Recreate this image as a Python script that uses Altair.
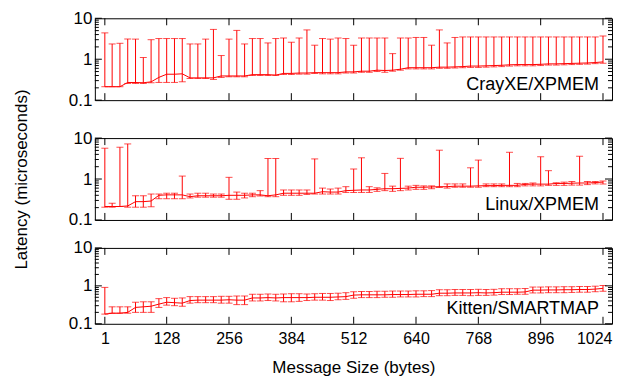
import altair as alt
import pandas as pd

# ---------------- data ----------------
sizes = [1] + [16 * k for k in range(1, 65)]

cray_mean = [0.213, 0.213, 0.213, 0.27, 0.27, 0.266, 0.28, 0.36, 0.43, 0.43,
             0.44, 0.35, 0.35, 0.35, 0.35, 0.39, 0.39, 0.39, 0.39, 0.42,
             0.42, 0.42, 0.41, 0.45, 0.45, 0.46, 0.46, 0.47, 0.47, 0.47,
             0.47, 0.49, 0.49, 0.51, 0.51, 0.54, 0.53, 0.54, 0.57, 0.62,
             0.62, 0.62, 0.62, 0.64, 0.64, 0.65, 0.66, 0.68, 0.68, 0.69,
             0.70, 0.71, 0.73, 0.74, 0.74, 0.74, 0.75, 0.77, 0.77, 0.78,
             0.79, 0.80, 0.81, 0.83, 0.86]
cray_lo = [0.213, 0.213, 0.213, 0.256, 0.256, 0.256, 0.266, 0.271, 0.271, 0.271,
           0.281, 0.339, 0.339, 0.339, 0.321, 0.359, 0.372, 0.372, 0.372, 0.401,
           0.401, 0.401, 0.401, 0.424, 0.424, 0.432, 0.432, 0.449, 0.44, 0.44,
           0.44, 0.46, 0.46, 0.48, 0.48, 0.50, 0.48, 0.51, 0.54, 0.58,
           0.58, 0.58, 0.58, 0.60, 0.60, 0.61, 0.62, 0.63, 0.63, 0.64,
           0.65, 0.66, 0.68, 0.69, 0.69, 0.69, 0.70, 0.72, 0.72, 0.73,
           0.74, 0.75, 0.76, 0.78, 0.80]
cray_hi = [4.4, 2.36, 2.45, 3.12, 3.1, 1.1, 3.0, 3.2, 3.2, 3.2,
           3.2, 2.36, 2.36, 3.1, 5.35, 1.23, 3.1, 5.06, 2.36, 3.2,
           3.2, 2.5, 3.2, 3.3, 2.6, 3.3, 5.2, 2.2, 3.2, 3.1,
           3.3, 3.2, 2.2, 3.3, 3.3, 3.3, 3.3, 1.37, 3.3, 3.3,
           3.4, 3.4, 2.2, 5.2, 2.5, 3.4, 3.5, 3.5, 3.5, 3.5,
           3.5, 3.5, 3.5, 3.5, 3.5, 3.5, 3.5, 3.5, 3.5, 3.5,
           3.5, 3.5, 3.5, 3.5, 3.7]

linux_mean = [0.213, 0.213, 0.213, 0.22, 0.28, 0.28, 0.29, 0.40, 0.41, 0.41,
              0.41, 0.37, 0.39, 0.39, 0.39, 0.39, 0.40, 0.40, 0.40, 0.41,
              0.41, 0.39, 0.41, 0.45, 0.45, 0.45, 0.45, 0.45, 0.49, 0.48,
              0.48, 0.52, 0.53, 0.54, 0.54, 0.56, 0.58, 0.58, 0.59, 0.60,
              0.63, 0.63, 0.64, 0.65, 0.65, 0.67, 0.67, 0.67, 0.68, 0.69,
              0.69, 0.70, 0.70, 0.70, 0.74, 0.75, 0.75, 0.75, 0.78, 0.78,
              0.79, 0.80, 0.80, 0.82, 0.84]
linux_lo = [0.205, 0.205, 0.213, 0.205, 0.205, 0.205, 0.21, 0.33, 0.33, 0.33,
            0.33, 0.345, 0.36, 0.36, 0.36, 0.36, 0.32, 0.32, 0.345, 0.37,
            0.385, 0.37, 0.37, 0.40, 0.40, 0.40, 0.42, 0.43, 0.43, 0.43,
            0.43, 0.47, 0.47, 0.47, 0.47, 0.50, 0.52, 0.50, 0.52, 0.54,
            0.56, 0.56, 0.58, 0.62, 0.60, 0.63, 0.63, 0.63, 0.63, 0.65,
            0.65, 0.65, 0.65, 0.65, 0.68, 0.68, 0.68, 0.70, 0.70, 0.70,
            0.71, 0.71, 0.73, 0.76, 0.76]
linux_hi = [5.66, 0.256, 5.98, 7.2, 0.39, 0.39, 0.43, 0.43, 0.45, 0.45,
            1.18, 0.43, 0.45, 0.45, 0.43, 0.43, 1.1, 0.48, 0.45, 0.45,
            0.52, 3.17, 3.17, 0.54, 0.54, 0.54, 0.54, 3.1, 0.60, 0.57,
            0.60, 0.65, 1.75, 3.3, 0.65, 0.61, 1.37, 0.67, 3.2, 0.67,
            0.70, 0.68, 0.68, 5.06, 0.76, 0.76, 0.76, 1.88, 2.9, 0.76,
            0.76, 0.76, 4.5, 0.78, 0.78, 0.80, 3.5, 1.6, 0.81, 0.84,
            0.87, 3.6, 0.87, 0.87, 0.89]

kitten_mean = [0.18, 0.19, 0.19, 0.20, 0.27, 0.28, 0.29, 0.33, 0.37, 0.36,
               0.35, 0.41, 0.42, 0.42, 0.42, 0.42, 0.43, 0.42, 0.42, 0.48,
               0.48, 0.49, 0.48, 0.49, 0.49, 0.49, 0.49, 0.50, 0.50, 0.50,
               0.51, 0.52, 0.57, 0.58, 0.58, 0.58, 0.58, 0.59, 0.59, 0.59,
               0.60, 0.60, 0.60, 0.64, 0.64, 0.65, 0.65, 0.65, 0.66, 0.65,
               0.66, 0.68, 0.68, 0.68, 0.69, 0.77, 0.77, 0.78, 0.78, 0.79,
               0.79, 0.80, 0.80, 0.82, 0.86]
kitten_lo = [0.18, 0.19, 0.19, 0.19, 0.20, 0.20, 0.20, 0.27, 0.31, 0.30,
             0.29, 0.35, 0.36, 0.36, 0.36, 0.35, 0.35, 0.32, 0.32, 0.40,
             0.40, 0.41, 0.40, 0.38, 0.38, 0.39, 0.41, 0.42, 0.42, 0.41,
             0.43, 0.44, 0.47, 0.49, 0.49, 0.49, 0.50, 0.50, 0.51, 0.51,
             0.51, 0.52, 0.52, 0.55, 0.55, 0.56, 0.56, 0.55, 0.56, 0.56,
             0.57, 0.59, 0.59, 0.60, 0.60, 0.65, 0.65, 0.66, 0.66, 0.66,
             0.67, 0.68, 0.68, 0.70, 0.72]
kitten_hi = [0.91, 0.28, 0.28, 0.28, 0.37, 0.38, 0.38, 0.46, 0.49, 0.47,
             0.48, 0.52, 0.52, 0.52, 0.52, 0.53, 0.53, 0.54, 0.54, 0.60,
             0.60, 0.61, 0.60, 0.61, 0.62, 0.62, 0.61, 0.62, 0.63, 0.63,
             0.64, 0.66, 0.70, 0.71, 0.71, 0.72, 0.72, 0.73, 0.73, 0.73,
             0.74, 0.74, 0.75, 0.79, 0.79, 0.80, 0.80, 0.80, 0.81, 0.80,
             0.81, 0.84, 0.84, 0.84, 0.85, 0.93, 0.93, 0.94, 0.94, 0.95,
             0.95, 0.96, 0.96, 0.98, 1.02]

x_ticks = [1, 128, 256, 384, 512, 640, 768, 896, 1024]
y_major = [0.1, 1, 10]
y_minor = [0.2, 0.3, 0.4, 0.5, 0.6, 0.7, 0.8, 0.9, 2, 3, 4, 5, 6, 7, 8, 9]

FONT = "Liberation Sans"
RED = "#ff0000"
W = 518
XDOM = [-19.5, 1042.5]


def panel(name, mean, lo, hi, height, show_x, y_title):
    df = pd.DataFrame({"size": sizes, "mean": mean, "lo": lo, "hi": hi})
    xscale = alt.Scale(domain=XDOM, nice=False, zero=False)
    yscale = alt.Scale(type="log", domain=[0.1, 10], nice=False)
    if show_x:
        xaxis = alt.Axis(values=x_ticks, format="d", title="Message Size (bytes)",
                         ticks=False, tickSize=0, domain=False, grid=False,
                         labelPadding=7, titlePadding=13, labelFontSize=16,
                         titleFontSize=17, labelFlush=9.5, labelFlushOffset=9)
    else:
        xaxis = None
    if y_title:
        yaxis = alt.Axis(values=y_major, format="~g", ticks=False, tickSize=0,
                         domain=False, grid=False, labelPadding=3, labelFontSize=17,
                         title=y_title, titleFontSize=17, titlePadding=38)
    else:
        yaxis = alt.Axis(values=y_major, format="~g", ticks=False, tickSize=0,
                         domain=False, grid=False, labelPadding=3, labelFontSize=17,
                         title=None)

    def X(f):
        return alt.X(f + ":Q", scale=xscale, axis=xaxis)

    def Y(f):
        return alt.Y(f + ":Q", scale=yscale, axis=yaxis)

    base = alt.Chart(df)
    bars = base.mark_rule(color=RED, strokeWidth=1).encode(x=X("size"), y=Y("lo"), y2="hi:Q")
    cap_hi = base.mark_tick(color=RED, orient="horizontal", size=7, thickness=1).encode(
        x=X("size"), y=Y("hi"))
    cap_lo = base.mark_tick(color=RED, orient="horizontal", size=7, thickness=1).encode(
        x=X("size"), y=Y("lo"))
    line = base.mark_line(color=RED, strokeWidth=1).encode(x=X("size"), y=Y("mean"))

    xt = alt.Chart(pd.DataFrame({"v": x_ticks}))
    xt_bot = xt.mark_rule(color="black").encode(x=X("v"), y=alt.value(height), y2=alt.value(height - 7))
    xt_top = xt.mark_rule(color="black").encode(x=X("v"), y=alt.value(0), y2=alt.value(7))
    ym = alt.Chart(pd.DataFrame({"v": y_major}))
    ym_l = ym.mark_rule(color="black").encode(y=Y("v"), x=alt.value(0), x2=alt.value(7))
    ym_r = ym.mark_rule(color="black").encode(y=Y("v"), x=alt.value(W), x2=alt.value(W - 7))
    yn = alt.Chart(pd.DataFrame({"v": y_minor}))
    yn_l = yn.mark_rule(color="black").encode(y=Y("v"), x=alt.value(0), x2=alt.value(4))
    yn_r = yn.mark_rule(color="black").encode(y=Y("v"), x=alt.value(W), x2=alt.value(W - 4))

    label = alt.Chart(pd.DataFrame({"t": [name]})).mark_text(
        align="right", baseline="alphabetic", fontSize=18, font=FONT, color="black"
    ).encode(x=alt.value(W - 13), y=alt.value(height - 10), text="t:N")

    return alt.layer(bars, cap_hi, cap_lo, line, xt_bot, xt_top, ym_l, ym_r, yn_l, yn_r,
                     label).properties(width=W, height=height)


def spacer(h):
    d = pd.DataFrame({"v": [0]})
    return alt.Chart(d).mark_point(opacity=0).encode(
        x=alt.X("v:Q", axis=None), y=alt.Y("v:Q", axis=None)
    ).properties(width=W, height=h, view=alt.ViewBackground(stroke="transparent"))


p1 = panel("CrayXE/XPMEM", cray_mean, cray_lo, cray_hi, 82, False, None)
p2 = panel("Linux/XPMEM", linux_mean, linux_lo, linux_hi, 82, False, "Latency (microseconds)")
p3 = panel("Kitten/SMARTMAP", kitten_mean, kitten_lo, kitten_hi, 76, True, None)

chart = alt.vconcat(p1, spacer(38), p2, spacer(28), p3, spacing=0, bounds="flush").properties(
    padding={"left": 3, "top": 0, "right": 0, "bottom": 0}
).configure_view(stroke="black", strokeWidth=1).configure_axis(
    labelFont=FONT, titleFont=FONT, labelColor="black", titleColor="black",
    titleFontWeight="normal"
)

chart.save("out.html", embed_options={"renderer": "svg", "actions": False})
